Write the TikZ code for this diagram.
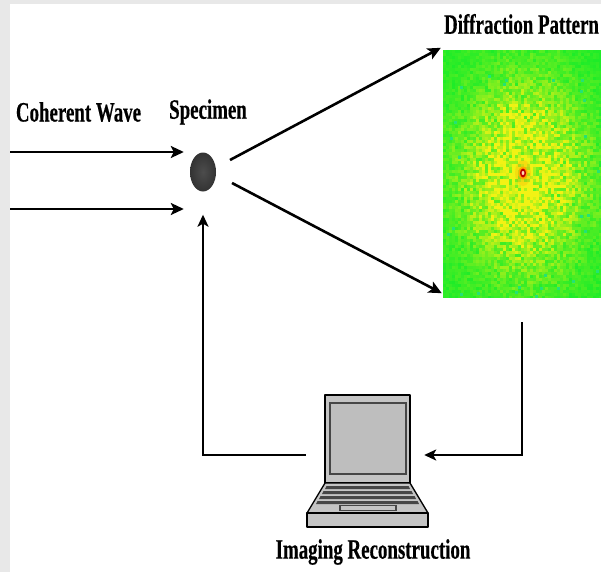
\documentclass[tikz,border=0pt]{standalone}
\usepackage{fontspec}
\setmainfont[BoldFeatures={FakeBold=0.5}]{Liberation Serif}
\usetikzlibrary{arrows.meta,shapes.geometric}

\definecolor{dpgrn}{RGB}{30,236,40}
\definecolor{dpyel}{RGB}{242,242,20}
\definecolor{dpcyan}{RGB}{40,220,170}
\definecolor{bodygray}{RGB}{196,196,196}
\definecolor{screengray}{RGB}{190,190,190}
\definecolor{edgegray}{RGB}{70,70,70}
\definecolor{stripgray}{RGB}{232,232,232}

\tikzset{
  lbl/.style={font=\bfseries\fontsize{28}{30}\selectfont, xscale=0.675, inner sep=0pt},
  arr/.style={line width=2.6pt, -{Stealth[length=13pt,width=12pt,inset=3pt]}},
  fb/.style={line width=2.2pt, -{Stealth[length=12pt,width=11pt,inset=3pt]}},
  lappart/.style={fill=bodygray, draw=black, line width=1.3pt, line join=round},
  keyrow/.style={fill=edgegray, draw=none},
}

\begin{document}
\begin{tikzpicture}[x=1pt,y=-1pt]
  % canvas and light frame on the left and top
  \fill[white] (0,0) rectangle (601,572);
  \useasboundingbox (0,0) rectangle (601,572);
  \fill[stripgray] (0,0) rectangle (10,572);
  \fill[stripgray] (0,0) rectangle (601,4);

  % ---- diffraction pattern: speckle field brightening toward the centre
  \pgfmathsetseed{4217}
  \begin{scope}
    \clip (443,50) rectangle (601,297);
    \fill[dpgrn] (443,50) rectangle (601,297);
    \foreach \i in {0,...,52}{
      \foreach \j in {0,...,82}{
        \pgfmathsetmacro{\px}{443+3*\i}
        \pgfmathsetmacro{\py}{50+3*\j}
        \pgfmathsetmacro{\dx}{(\px-523)/64}
        \pgfmathsetmacro{\dy}{(\py-175)/96}
        \pgfmathsetmacro{\g}{exp(-(\dx*\dx+\dy*\dy))}
        \pgfmathtruncatemacro{\t}{max(0,min(100,100*\g*(0.35+1.4*rnd)+14*rnd-7))}
        \fill[dpyel!\t!dpgrn] (\px,\py) rectangle ++(3,3);
      }
    }
    % a few cyan specks near the border
    \foreach \k in {1,...,60}{
      \pgfmathsetmacro{\ex}{443+158*rnd}
      \pgfmathsetmacro{\ey}{50+247*rnd}
      \pgfmathsetmacro{\ax}{abs(\ex-523)/79}
      \pgfmathsetmacro{\ay}{abs(\ey-175)/124}
      \pgfmathsetmacro{\m}{max(\ax,\ay)}
      \ifdim \m pt > 0.72pt
        \fill[dpcyan!60!dpgrn] (\ex,\ey) rectangle ++(3,3);
      \fi
    }
    % warm glow and bright central order
    \fill[orange, opacity=0.18] (523,173) ellipse (8 and 13);
    \fill[orange!70!yellow] (523,173) ellipse (4.5 and 6.5);
    \fill[red!75!black] (523,173) ellipse (3 and 4.5);
    \fill[orange!30!white] (523,173) ellipse (1.4 and 2);
  \end{scope}
  \node[draw=none, minimum width=158pt, minimum height=247pt, inner sep=0pt]
    (pat) at (522,173.5) {};

  % ---- labels
  \node[lbl] (coh)   at (78.5,112) {Coherent Wave};
  \node[lbl] (spect) at (208,112) {Specimen};
  \node[lbl] (dift)  at (521.5,24) {Diffraction Pattern};
  \node[lbl] (rect)  at (373,552) {Imaging Reconstruction};

  % ---- specimen
  \node[ellipse, minimum width=26pt, minimum height=39pt, inner sep=0pt,
        shading=radial, inner color=gray!60!black, outer color=black!80]
    (spec) at (203,172) {};

  % ---- incoming coherent wave
  \coordinate (in1) at (10,152);
  \coordinate (in2) at (10,209);
  \draw[arr] (in1) -- ([xshift=-6pt]in1 -| spec.west);
  \draw[arr] (in2) -- ([xshift=-6pt]in2 -| spec.west);

  % ---- scattered waves onto the detector
  \draw[arr] ([xshift=27pt,yshift=12pt]spec.center) -- ([xshift=-2pt,yshift=2pt]pat.north west);
  \draw[arr] ([xshift=29pt,yshift=-11pt]spec.center) -- ([xshift=-1pt,yshift=4pt]pat.south west);

  % ---- laptop
  \node[draw=none, minimum width=121pt, minimum height=132pt, inner sep=0pt]
    (lap) at (367.5,461) {};
  \begin{scope}
    % lid
    \draw[lappart] (325,395) rectangle (410,483);
    \draw[fill=screengray, draw=edgegray, line width=1.8pt] (330,403) rectangle (406,474);
    % keyboard deck
    \draw[lappart] (325,483) -- (410,483) -- (428,513) -- (307,513) -- cycle;
    \fill[keyrow] (326.5,486) -- (408.5,486) -- (410,489) -- (325,489) -- cycle;
    \fill[keyrow] (323.5,491) -- (411.5,491) -- (413,494) -- (322,494) -- cycle;
    \fill[keyrow] (320.5,496) -- (414.5,496) -- (416,499) -- (319,499) -- cycle;
    \fill[keyrow] (317.5,501) -- (417.5,501) -- (419,504) -- (316,504) -- cycle;
    % touch pad
    \draw[fill=bodygray, draw=edgegray, line width=1.1pt] (340,505.5) rectangle (396,510.5);
    % base slab
    \draw[lappart] (307,513) rectangle (428,527);
  \end{scope}

  % ---- feedback loop: detector -> computer -> specimen
  \draw[fb] ([yshift=-25pt]pat.south) |- ([xshift=-4pt,yshift=6pt]lap.east);
  \draw[fb] ([xshift=-1pt,yshift=6pt]lap.west) -| ([yshift=-23pt]spec.south);
\end{tikzpicture}
\end{document}
